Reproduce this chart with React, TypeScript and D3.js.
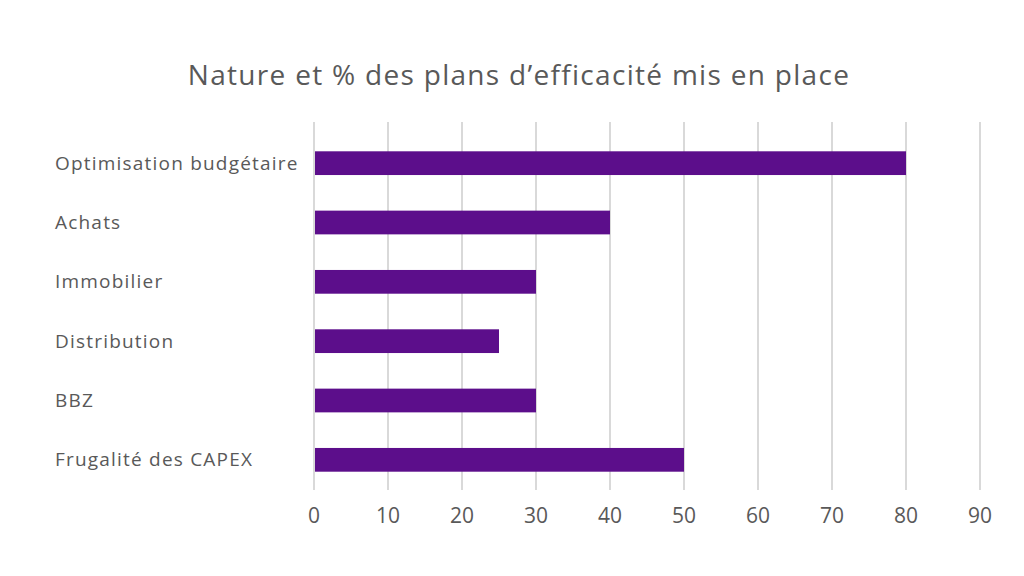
import React, { useEffect, useRef } from "react";
import * as d3 from "d3";

const categories = [
  "Optimisation budgétaire",
  "Achats",
  "Immobilier",
  "Distribution",
  "BBZ",
  "Frugalité des CAPEX",
];
const values = [80, 40, 30, 25, 30, 50];
const xTicks = [0, 10, 20, 30, 40, 50, 60, 70, 80, 90];
const title = "Nature et % des plans d’efficacité mis en place";

const FONT = "'Open Sans', sans-serif";

export default function App() {
  const ref = useRef<SVGSVGElement>(null);

  useEffect(() => {
    if (!ref.current) return;
    const svg = d3.select(ref.current);
    svg.selectAll("*").remove();

    const W = 1024;
    const H = 576;

    svg.append("rect").attr("width", W).attr("height", H).attr("fill", "#fff");

    const x = d3.scaleLinear().domain([0, 90]).range([314, 980]);
    const y = d3
      .scaleBand<string>()
      .domain(categories)
      .range([133.5, 489.5])
      .paddingInner(0.6)
      .paddingOuter(0.3);

    // gridlines
    svg
      .append("g")
      .selectAll("line")
      .data(xTicks)
      .join("line")
      .attr("x1", (d) => x(d))
      .attr("x2", (d) => x(d))
      .attr("y1", 122)
      .attr("y2", 490)
      .attr("stroke", "#d9d9d9")
      .attr("stroke-width", 2);

    // bars
    svg
      .append("g")
      .selectAll("rect")
      .data(values)
      .join("rect")
      .attr("x", x(0) + 1)
      .attr("y", (_, i) => y(categories[i]) as number)
      .attr("width", (d) => x(d) - x(0) - 1)
      .attr("height", y.bandwidth())
      .attr("fill", "#5c0e8b");

    // category labels
    svg
      .append("g")
      .selectAll("text")
      .data(categories)
      .join("text")
      .attr("x", 55)
      .attr("y", (d) => (y(d) as number) + y.bandwidth() / 2)
      .attr("dy", "0.35em")
      .attr("fill", "#595959")
      .style("font-family", FONT)
      .style("font-size", "19px")
      .style("letter-spacing", "1.2px")
      .text((d) => d);

    // tick labels
    svg
      .append("g")
      .selectAll("text")
      .data(xTicks)
      .join("text")
      .attr("x", (d) => x(d))
      .attr("y", 516)
      .attr("dy", "0.35em")
      .attr("text-anchor", "middle")
      .attr("fill", "#595959")
      .style("font-family", FONT)
      .style("font-size", "21px")
      .text((d) => d);

    svg
      .append("text")
      .attr("x", 519)
      .attr("y", 75)
      .attr("dy", "0.35em")
      .attr("text-anchor", "middle")
      .attr("fill", "#595959")
      .style("font-family", FONT)
      .style("font-size", "28px")
      .style("letter-spacing", "1.3px")
      .text(title);
  }, []);

  return (
    <svg
      ref={ref}
      width={1024}
      height={576}
      style={{ position: "absolute", left: 0, top: 0 }}
    />
  );
}
